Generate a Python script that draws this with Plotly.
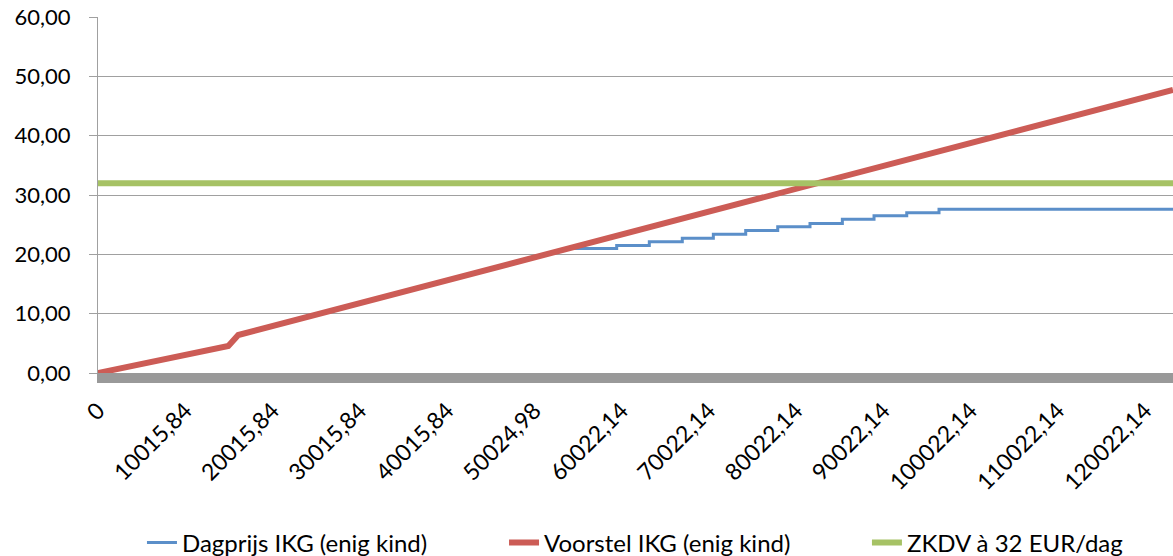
import plotly.graph_objects as go

# ---- data ----
# x = annual income (category values), y = daily price in EUR
red_x = [0, 14940, 16080, 123233]
red_y = [0.00, 4.55, 6.40, 47.70]

# Dagprijs IKG follows the proposal up to ~21 EUR, then steps
blue_follow_x = [0, 14940, 16080, 53940]
blue_follow_y = [0.00, 4.55, 6.40, 21.00]
step_x = [59460, 63200, 66980, 70540, 74250, 77920, 81620, 85330, 88960, 92710, 96410]
step_levels = [21.00, 21.50, 22.10, 22.70, 23.40, 24.00, 24.65, 25.20, 25.90, 26.50, 27.00, 27.60]
blue_end_x = 123233

green_x = [0, 123233]
green_y = [32.0, 32.0]

tick_vals = [0, 10015.84, 20015.84, 30015.84, 40015.84, 50024.98, 60022.14,
             70022.14, 80022.14, 90022.14, 100022.14, 110022.14, 120022.14]
tick_text = ["0", "10015,84", "20015,84", "30015,84", "40015,84", "50024,98", "60022,14",
             "70022,14", "80022,14", "90022,14", "100022,14", "110022,14", "120022,14"]

names = ["Dagprijs IKG (enig kind)", "Voorstel IKG (enig kind)", "ZKDV à 32 EUR/dag"]

# build blue stair path from the read step positions
blue_x = list(blue_follow_x)
blue_y = list(blue_follow_y)
for i, sx in enumerate(step_x):
    blue_x += [sx, sx]
    blue_y += [step_levels[i], step_levels[i + 1]]
blue_x.append(blue_end_x)
blue_y.append(step_levels[-1])

FONT = "Lato"
fig = go.Figure()
fig.add_trace(go.Scatter(x=blue_x, y=blue_y, mode="lines", name=names[0], legend="legend",
                         line=dict(color="#5B8FC9", width=3)))
fig.add_trace(go.Scatter(x=red_x, y=red_y, mode="lines", name=names[1], legend="legend2",
                         line=dict(color="#CC5C56", width=6)))
fig.add_trace(go.Scatter(x=green_x, y=green_y, mode="lines", name=names[2], legend="legend3",
                         line=dict(color="#A6C265", width=6)))

leg_font = dict(family=FONT, size=24, color="black")
leg_y = -0.4775


def leg(x):
    return dict(orientation="h", x=x, xanchor="left", y=leg_y, yanchor="middle",
                font=leg_font, bgcolor="rgba(0,0,0,0)")


fig.update_layout(
    width=1173, height=556,
    margin=dict(l=98, r=0, t=17, b=183, autoexpand=False),
    paper_bgcolor="white", plot_bgcolor="white",
    separators=",.",
    font=dict(family=FONT, size=22, color="black"),
    showlegend=True,
    legend=leg(0.0409),
    legend2=leg(0.3777),
    legend3=leg(0.7153),
    xaxis=dict(range=[0, 123233], tickmode="array", tickvals=tick_vals, ticktext=tick_text,
               tickangle=-45, showgrid=False, zeroline=False, automargin=False,
               showline=True, linecolor="#999999", linewidth=10,
               tickfont=dict(family=FONT, size=23, color="black"),
               ticks="", ticklabelstandoff=5, layer="below traces",
               ticklabeloverflow="allow"),
    yaxis=dict(range=[0, 60], dtick=10, tickformat=".2f", showgrid=True, automargin=False,
               gridcolor="#A0A0A0", gridwidth=1.3, zeroline=False,
               showline=True, linecolor="#A0A0A0", linewidth=1.3,
               ticks="outside", ticklen=8, tickcolor="#A0A0A0", tickwidth=1.3,
               ticklabelstandoff=14, ticklabeloverflow="allow"),
)

# remove the default 8px page margin so the figure fills the window exactly
fig.write_html("out.html", config={"displayModeBar": False},
               post_script="document.body.style.margin='0';")
